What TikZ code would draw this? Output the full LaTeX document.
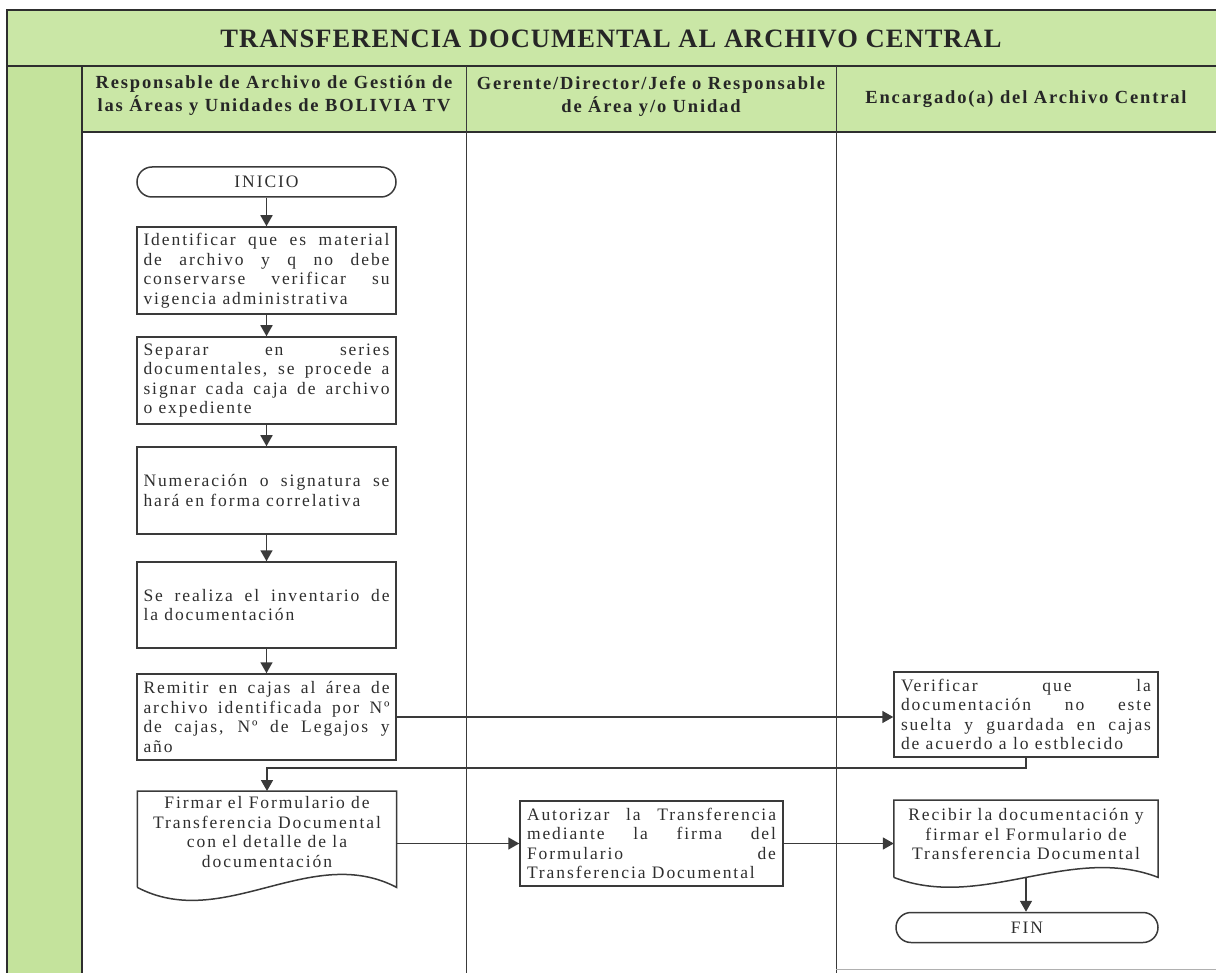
\documentclass[tikz,border=0pt]{standalone}
\usepackage{fontspec}
\setmainfont{Liberation Serif}
\newfontfamily\bodyfont[LetterSpace=11]{Liberation Serif}
\newfontfamily\headfont[LetterSpace=10]{Liberation Serif}
\newfontfamily\titlefont[LetterSpace=4]{Liberation Serif}
\usetikzlibrary{arrows.meta,calc}
\definecolor{hgreen}{HTML}{CAE7A6}
\definecolor{sgreen}{HTML}{C4E39C}
\definecolor{lgray}{HTML}{3A3A3A}
\definecolor{tgray}{HTML}{2E2E2E}
\tikzset{
  bodytxt/.style={font=\bodyfont\fontsize{17.5}{19.5}\selectfont, text=tgray},
  box/.style={draw=lgray, line width=1.5pt, minimum width=259pt, inner sep=0pt, bodytxt},
  jtext/.style={align=justify, text width=246pt},
  term/.style={draw=lgray, line width=1.5pt, rounded corners=15pt, minimum width=259pt,
    minimum height=30pt, bodytxt},
  conn/.style={draw=lgray, line width=1.6pt},
  arr/.style={conn, -{Triangle[width=12pt,length=11pt]}},
  frame/.style={draw=tgray, line width=1.8pt},
  colline/.style={draw=lgray, line width=1pt},
  hdr/.style={font=\headfont\bfseries\fontsize{18.5}{23}\selectfont, text=black!85, align=center}
}
\begin{document}
\begin{tikzpicture}[x=1pt,y=-1pt]
\useasboundingbox (0,0) rectangle (1216,973);
% backgrounds
\fill[hgreen] (7,10) rectangle (1216,132);
\fill[sgreen] (7,66) rectangle (82,973);
% frame lines
\draw[frame] (1216,10) -- (7,10) -- (7,973);
\draw[frame] (7,66) -- (1216,66);
\draw[frame] (82,132) -- (1216,132);
\draw[frame] (82,66) -- (82,973);
\draw[colline] (466,66) -- (466,973);
\draw[colline] (836,66) -- (836,973);
\draw[draw=lgray!40, line width=0.6pt] (836,969) -- (1216,969);
% titles
\node[font=\titlefont\bfseries\fontsize{26.5}{30}\selectfont, text=black!85] (title) at (611,39) {TRANSFERENCIA DOCUMENTAL AL ARCHIVO CENTRAL};
\node[hdr] (h1) at (274,96) {Responsable de Archivo de Gestión de\\las Áreas y Unidades de BOLIVIA TV};
\node[hdr] (h2) at (651,96) {Gerente/Director/Jefe o Responsable\\de Área y/o Unidad};
\node[hdr] (h3) at (1026,99) {Encargado(a) del Archivo Central};
% nodes
\node[term] (inicio) at (266.5,182) {INICIO};
\node[box, jtext, minimum height=87pt] (b1) at (266.5,270.5) {Identificar que es material\linebreak de archivo y q no debe\linebreak conservarse verificar su\linebreak vigencia administrativa};
\node[box, jtext, minimum height=87pt] (b2) at (266.5,380.5) {Separar en series\linebreak documentales, se procede a\linebreak signar cada caja de archivo\linebreak o expediente};
\node[box, jtext, minimum height=87pt] (b3) at (266.5,490.5) {Numeración o signatura se\linebreak hará en forma correlativa};
\node[box, jtext, minimum height=86pt] (b4) at (266.5,605) {Se realiza el inventario de\linebreak la documentación};
\node[box, jtext, minimum height=86pt] (b5) at (266.5,717) {Remitir en cajas al área de\linebreak archivo identificada por Nº\linebreak de cajas, Nº de Legajos y\linebreak año};
% document shape: Firmar
\node[inner sep=0pt, minimum width=259pt, minimum height=96pt, anchor=north] (firmar) at (267,791) {};
\node[bodytxt, align=center, anchor=north] (firmart) at (267,793) {Firmar el Formulario de\\Transferencia Documental\\con el detalle de la\\documentación};
\draw[draw=lgray, line width=1.5pt] (firmar.south west) -- (firmar.north west) -- (firmar.north east) -- (firmar.south east)
  .. controls ($(firmar.south east)+(-86,-45)$) and ($(firmar.south west)+(86,45)$) .. (firmar.south west);
\node[box, jtext, minimum width=263pt, text width=249pt, minimum height=85pt] (aut) at (651.5,843.5) {Autorizar la Transferencia\linebreak mediante la firma del\linebreak Formulario de\linebreak Transferencia Documental};
\node[box, jtext, minimum width=264pt, text width=250pt, minimum height=85pt] (ver) at (1026,714.5) {Verificar que la\linebreak documentación no este\linebreak suelta y guardada en cajas\linebreak de acuerdo a lo estblecido};
% document shape: Recibir
\node[inner sep=0pt, minimum width=264pt, minimum height=77pt, anchor=north] (rec) at (1026,800) {};
\node[bodytxt, align=center, anchor=north] (rect) at (1026,805) {Recibir la documentación y\\firmar el Formulario de\\Transferencia Documental};
\draw[draw=lgray, line width=1.5pt] (rec.south west) -- (rec.north west) -- (rec.north east) -- (rec.south east)
  .. controls ($(rec.south east)+(-88,-34)$) and ($(rec.south west)+(88,34)$) .. (rec.south west);
\coordinate (recb) at (1026,878);
\node[term, minimum width=262pt] (fin) at (1027,927.5) {FIN};
% connectors
\draw[arr] (inicio) -- (b1);
\draw[arr] (b1) -- (b2);
\draw[arr] (b2) -- (b3);
\draw[arr] (b3) -- (b4);
\draw[arr] (b4) -- (b5);
\draw[arr] (b5.east) -- (b5.east -| ver.west);
\coordinate (v1) at (ver.south |- 0,768);
\draw[arr] (ver.south) -- (v1) -- (v1 -| firmar.north) -- (firmar.north);
\coordinate (f1) at (firmar.east |- 0,843.5);
\draw[arr] (f1) -- (f1 -| aut.west);
\draw[arr] (aut.east) -- (aut.east -| rec.west);
\draw[arr] (recb) -- (recb |- fin.north);
\end{tikzpicture}
\end{document}
